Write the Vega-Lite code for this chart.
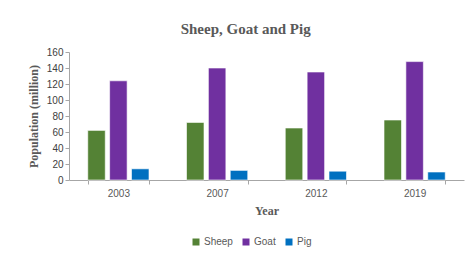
{
  "$schema": "https://vega.github.io/schema/vega-lite/v6.json",
  "width": 395,
  "height": 128,
  "padding": {"left": 27, "top": 22, "right": 2, "bottom": 5},
  "background": "white",
  "title": {
    "text": "Sheep, Goat and Pig",
    "font": "Liberation Serif",
    "fontSize": 15,
    "fontWeight": "bold",
    "color": "#595959",
    "anchor": "middle",
    "frame": "bounds",
    "offset": 10
  },
  "data": {
    "values": [
      {"Year": "2003", "Animal": "Sheep", "Population": 62},
      {"Year": "2003", "Animal": "Goat", "Population": 124},
      {"Year": "2003", "Animal": "Pig", "Population": 14},
      {"Year": "2007", "Animal": "Sheep", "Population": 72},
      {"Year": "2007", "Animal": "Goat", "Population": 140},
      {"Year": "2007", "Animal": "Pig", "Population": 12},
      {"Year": "2012", "Animal": "Sheep", "Population": 65},
      {"Year": "2012", "Animal": "Goat", "Population": 135},
      {"Year": "2012", "Animal": "Pig", "Population": 11},
      {"Year": "2019", "Animal": "Sheep", "Population": 75},
      {"Year": "2019", "Animal": "Goat", "Population": 148},
      {"Year": "2019", "Animal": "Pig", "Population": 10}
    ]
  },
  "mark": {"type": "bar", "stroke": "#ffffff", "strokeOpacity": 0.6, "strokeWidth": 1},
  "encoding": {
    "x": {
      "field": "Year",
      "type": "nominal",
      "scale": {"paddingInner": 0.38, "paddingOuter": 0.19},
      "axis": {
        "title": "Year",
        "labelAngle": 0,
        "tickBand": "extent",
        "labelPadding": 4,
        "titlePadding": 7
      }
    },
    "xOffset": {
      "field": "Animal",
      "type": "nominal",
      "sort": ["Sheep", "Goat", "Pig"],
      "scale": {"paddingInner": 0.2}
    },
    "y": {
      "field": "Population",
      "type": "quantitative",
      "scale": {"domain": [0, 160]},
      "axis": {
        "title": "Population (million)",
        "values": [0, 20, 40, 60, 80, 100, 120, 140, 160],
        "grid": false,
        "titlePadding": 6,
        "labelColor": "#404040"
      }
    },
    "color": {
      "field": "Animal",
      "type": "nominal",
      "sort": ["Sheep", "Goat", "Pig"],
      "scale": {"domain": ["Sheep", "Goat", "Pig"], "range": ["#548235", "#7030A0", "#0070C0"]},
      "legend": {
        "title": null,
        "orient": "none",
        "legendX": 122,
        "legendY": 185,
        "direction": "horizontal",
        "symbolType": "square",
        "symbolSize": 49,
        "symbolStrokeWidth": 0,
        "labelFont": "Liberation Sans",
        "labelFontSize": 10,
        "labelColor": "#595959",
        "labelOffset": 3,
        "columnPadding": 8,
        "symbolOffset": 0
      }
    }
  },
  "config": {
    "view": {"stroke": null},
    "axis": {
      "domainColor": "#A6A6A6",
      "tickColor": "#A6A6A6",
      "tickSize": 4,
      "labelFont": "Liberation Sans",
      "labelFontSize": 10,
      "labelColor": "#595959",
      "titleFont": "Liberation Serif",
      "titleFontSize": 12,
      "titleFontWeight": "bold",
      "titleColor": "#595959"
    }
  }
}
